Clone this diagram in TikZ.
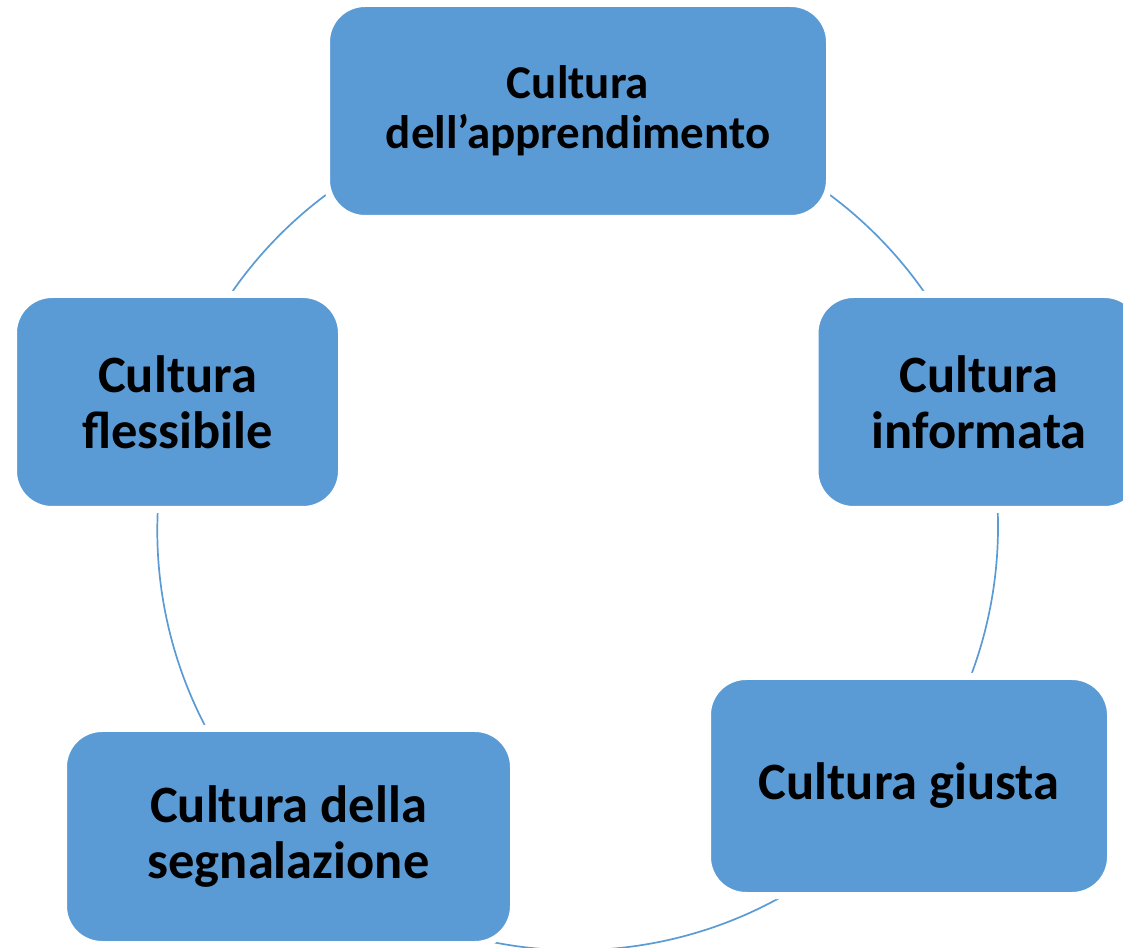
\documentclass[tikz,border=0pt]{standalone}
\usepackage{fontspec}
\setmainfont{Carlito}
\usetikzlibrary{backgrounds}
\definecolor{boxblue}{HTML}{5B9BD5}

\begin{document}
\begin{tikzpicture}[
        x=1pt,
        y=1pt,
        cbox/.style={fill=boxblue, draw=white, line width=7pt, rounded corners=38.5pt,
            inner sep=0pt, align=center, font=\bfseries\fontsize{52.5}{56}\selectfont},
        link/.style={draw=boxblue, line width=1.7pt}
    ]
        \useasboundingbox (0,0) rectangle (1123,947);

        \node[cbox, minimum width=503pt, minimum height=215pt,
            font=\bfseries\fontsize{47}{50}\selectfont] (learn) at (578,836) {Cultura\\dell’apprendimento};
        \node[cbox, minimum width=328pt, minimum height=215pt] (inform) at (979,545) {Cultura\\informata};
        \node[cbox, minimum width=403pt, minimum height=219pt] (just) at (909,161) {Cultura giusta};
        \node[cbox, minimum width=450pt, minimum height=216pt] (report) at (288.5,110.5) {Cultura della\\segnalazione};
        \node[cbox, minimum width=328pt, minimum height=215pt] (flex) at (177.5,545) {Cultura\\flessibile};

        \begin{scope}[on background layer]
            \draw[link] (learn.center) to[bend left=36, looseness=0.94] (inform.center);
            \draw[link] (inform.center) to[bend left=27.7, looseness=0.90] (just.center);
            \draw[link] (just.center) to[bend left=48, looseness=1.02] (report.center);
            \draw[link] (report.center) to[bend left=32.2, looseness=0.92] (flex.center);
            \draw[link] (flex.center) to[bend left=36, looseness=0.94] (learn.center);
        \end{scope}
    \end{tikzpicture}
\end{document}
